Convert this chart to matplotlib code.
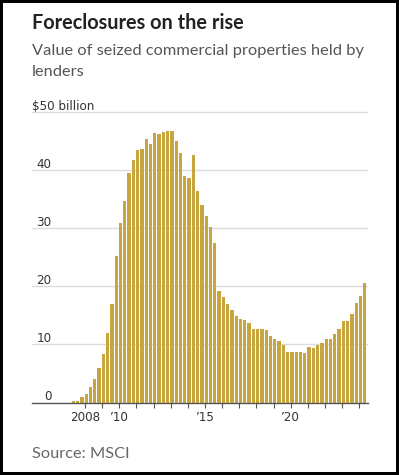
import matplotlib
matplotlib.use("Agg")
import matplotlib.pyplot as plt
from matplotlib.patches import Rectangle

# Quarterly values, $ billion, 2007 Q2 through 2024 Q2
first_year = 2007
first_quarter = 2
values = [
    0.3, 0.3, 1.0,
    1.4, 2.7, 4.0, 5.9,
    8.3, 12.0, 17.0, 25.2,
    30.8, 34.7, 39.5, 41.7,
    43.5, 43.6, 45.3, 44.5,
    46.3, 46.1, 46.5, 46.7,
    46.7, 45.0, 42.9, 39.0,
    38.6, 42.5, 36.3, 34.0,
    32.0, 30.1, 27.4, 19.1,
    18.1, 17.0, 15.9, 14.9,
    14.3, 14.1, 13.6, 12.6,
    12.6, 12.6, 12.4, 11.4,
    11.0, 10.6, 9.9, 8.6,
    8.7, 8.7, 8.7, 8.5,
    9.5, 9.3, 9.9, 10.3,
    10.9, 10.9, 11.7, 12.6,
    14.0, 14.0, 15.2, 17.1,
    18.3, 20.6,
]

y_ticks = [0, 10, 20, 30, 40, 50]
y_tick_labels = ["0", "10", "20", "30", "40", "$50 billion"]
x_ticks = list(range(2008, 2025))
x_tick_labels = {2008: "2008", 2010: "\u201910", 2015: "\u201915", 2020: "\u201920"}

title = "Foreclosures on the rise"
subtitle = ["Value of seized commercial properties held by", "lenders"]
source = "Source: MSCI"

BAR = "#C8A63F"
LABEL = dict(family="DejaVu Sans", fontstretch="condensed", fontsize=9.5,
             color="#333333")
W, H = 399, 475

fig = plt.figure(figsize=(W / 100, H / 100), dpi=100)
fig.patch.set_facecolor("white")

ax = fig.add_axes([31.7 / W, 1 - 402.5 / H, 336.3 / W, 296.6 / H])

start = first_year + (first_quarter - 1) * 0.25
x = [start + i * 0.25 + 0.07 for i in range(len(values))]
ax.bar(x, values, width=0.19, color=BAR, linewidth=0, zorder=2)

ax.set_xlim(2004.89, 2024.51)
ax.set_ylim(0, 51)

for s in ["top", "right", "left"]:
    ax.spines[s].set_visible(False)
ax.spines["bottom"].set_color("#555555")
ax.spines["bottom"].set_linewidth(1.0)
ax.spines["bottom"].set_zorder(3)

# gridlines with labels sitting on top of them, WSJ style
ax.set_yticks([])
for v, lab in zip(y_ticks, y_tick_labels):
    if v > 0:
        ax.axhline(v, color="#DCDCDC", linewidth=1.0, zorder=1)
    if v == 50:
        ax.annotate(lab, (0, v), xycoords=ax.get_yaxis_transform(),
                    xytext=(0, 1.5), textcoords="offset points",
                    ha="left", va="baseline", **LABEL)
    else:
        ax.annotate(lab, (20 / 336.3, v), xycoords=ax.get_yaxis_transform(),
                    xytext=(0, 1.5), textcoords="offset points",
                    ha="right", va="baseline", **LABEL)

ax.set_xticks(x_ticks)
ax.set_xticklabels([x_tick_labels.get(t, "") for t in x_ticks])
for t in ax.get_xticklabels():
    t.set_family(LABEL["family"])
    t.set_fontstretch(LABEL["fontstretch"])
    t.set_fontsize(LABEL["fontsize"])
    t.set_color(LABEL["color"])
ax.tick_params(axis="x", length=3.3, width=0.8, color="#555555", pad=3)

fig.text(32 / W, 1 - 29 / H, title, fontsize=14.3, fontweight="bold",
         family=["Lato", "DejaVu Sans"], color="#222222", va="baseline")
fig.text(32 / W, 1 - 54.5 / H, subtitle[0], fontsize=11.8,
         family=["Lato", "DejaVu Sans"], color="#555555", va="baseline")
fig.text(32 / W, 1 - 76 / H, subtitle[1], fontsize=11.8,
         family=["Lato", "DejaVu Sans"], color="#555555", va="baseline")
fig.text(32 / W, 1 - 458.3 / H, source, fontsize=11.8,
         family=["Lato", "DejaVu Sans"], color="#666666", va="baseline")

fig.patches.append(Rectangle((0, 0), 1, 1, transform=fig.transFigure,
                             fill=False, edgecolor="black", linewidth=4.3))

fig.savefig("out.png", dpi=100)
plt.close(fig)
